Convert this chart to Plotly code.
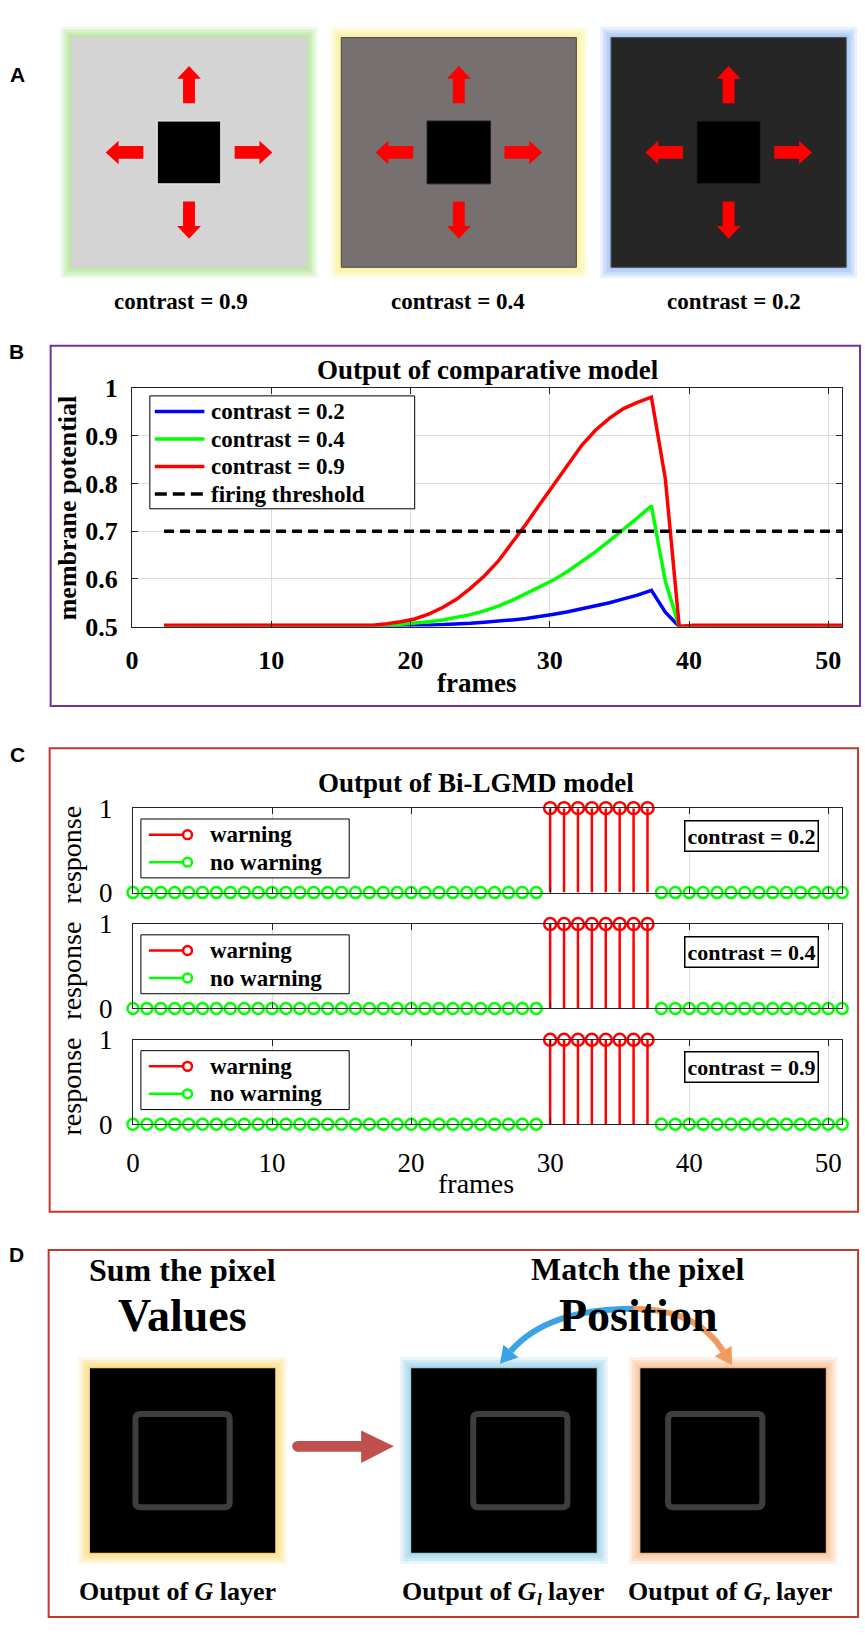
import math
import plotly.graph_objects as go

W, H = 865, 1637
SERIF = 'Liberation Serif, Times New Roman, serif'
SANS = 'Liberation Sans, Arial, sans-serif'

# ---- panel A: stimuli ----
stimulus_labels = ['contrast = 0.9', 'contrast = 0.4', 'contrast = 0.2']
stimulus_fill = ['#d4d4d4', '#767070', '#262626']
stimulus_glow = ['#b4e69a', '#fbf29a', '#a3c4f5']

# ---- panel B: comparative model ----
frames_b = [round(2.3 + i, 1) for i in range(50)]
potential_02 = [0.501] * 16 + [
    0.501, 0.501, 0.502, 0.503, 0.504, 0.505, 0.507, 0.509, 0.511, 0.514,
    0.517, 0.521, 0.526, 0.531, 0.537, 0.543, 0.550, 0.558, 0.566, 0.576,
    0.530, 0.500] + [0.500] * 12
potential_04 = [0.502] * 16 + [
    0.503, 0.505, 0.507, 0.510, 0.514, 0.519, 0.525, 0.533, 0.543, 0.555,
    0.569, 0.583, 0.598, 0.616, 0.636, 0.657, 0.680, 0.703, 0.728, 0.753,
    0.595, 0.500] + [0.501] * 12
potential_09 = [0.503] * 16 + [
    0.506, 0.510, 0.516, 0.526, 0.540, 0.557, 0.580, 0.606, 0.637, 0.675,
    0.715, 0.757, 0.797, 0.840, 0.880, 0.912, 0.937, 0.957, 0.970, 0.981,
    0.810, 0.500] + [0.503] * 12
threshold_x = [2.3, 51]
threshold_y = [0.7, 0.7]
series_names = ['contrast = 0.2', 'contrast = 0.4', 'contrast = 0.9', 'firing threshold']

# ---- panel C: Bi-LGMD output ----
frames_c = list(range(52))
response_02 = [0, 0, 0, 0, 0, 0, 0, 0, 0, 0,
               0, 0, 0, 0, 0, 0, 0, 0, 0, 0,
               0, 0, 0, 0, 0, 0, 0, 0, 0, 0,
               1, 1, 1, 1, 1, 1, 1, 1,
               0, 0, 0, 0, 0, 0, 0, 0, 0, 0, 0, 0, 0, 0]
response_04 = [0, 0, 0, 0, 0, 0, 0, 0, 0, 0,
               0, 0, 0, 0, 0, 0, 0, 0, 0, 0,
               0, 0, 0, 0, 0, 0, 0, 0, 0, 0,
               1, 1, 1, 1, 1, 1, 1, 1,
               0, 0, 0, 0, 0, 0, 0, 0, 0, 0, 0, 0, 0, 0]
response_09 = [0, 0, 0, 0, 0, 0, 0, 0, 0, 0,
               0, 0, 0, 0, 0, 0, 0, 0, 0, 0,
               0, 0, 0, 0, 0, 0, 0, 0, 0, 0,
               1, 1, 1, 1, 1, 1, 1, 1,
               0, 0, 0, 0, 0, 0, 0, 0, 0, 0, 0, 0, 0, 0]
responses = [response_02, response_04, response_09]
response_labels = ['contrast = 0.2', 'contrast = 0.4', 'contrast = 0.9']

RED, GREEN, BLUE = '#ff0000', '#00ff00', '#0000ff'

shapes = []
annotations = []


def P(x, y):
    return f'{x / W:.5f},{1 - y / H:.5f}'


def add_rect(x0, y0, x1, y1, fill='rgba(0,0,0,0)', line_color='rgba(0,0,0,0)', lw=0, opacity=1):
    shapes.append(dict(type='rect', xref='paper', yref='paper',
                       x0=x0 / W, x1=x1 / W, y0=1 - y1 / H, y1=1 - y0 / H,
                       fillcolor=fill, opacity=opacity,
                       line=dict(color=line_color, width=lw)))


def add_line(x0, y0, x1, y1, color, lw, dash='solid'):
    shapes.append(dict(type='line', xref='paper', yref='paper',
                       x0=x0 / W, x1=x1 / W, y0=1 - y0 / H, y1=1 - y1 / H,
                       line=dict(color=color, width=lw, dash=dash)))


def add_circle(cx, cy, r, color, lw, fill='white'):
    shapes.append(dict(type='circle', xref='paper', yref='paper',
                       x0=(cx - r) / W, x1=(cx + r) / W, y0=1 - (cy + r) / H, y1=1 - (cy - r) / H,
                       fillcolor=fill, line=dict(color=color, width=lw)))


def add_poly(points, color):
    path = 'M ' + ' L '.join(P(x, y) for x, y in points) + ' Z'
    shapes.append(dict(type='path', xref='paper', yref='paper', path=path,
                       fillcolor=color, line=dict(width=0)))


def add_path(path, color, lw):
    shapes.append(dict(type='path', xref='paper', yref='paper', path=path,
                       line=dict(color=color, width=lw)))


def add_text(x, y, s, size, bold=True, family=SERIF, angle=0, anchor='center', italic=False, **kw):
    annotations.append(dict(x=x / W, y=1 - y / H, xref='paper', yref='paper', text=s,
                            showarrow=False, xanchor=anchor, yanchor='middle',
                            textangle=angle,
                            font=dict(family=family, size=size, color='black',
                                      style='italic' if italic else 'normal',
                                      weight='bold' if bold else 'normal'), **kw))


def glow(x0, y0, x1, y1, color):
    for d, op in [(11, 0.25), (8, 0.35), (5, 0.5), (2, 0.7)]:
        add_rect(x0 - d, y0 - d, x1 + d, y1 + d, fill=color, opacity=op)


def rounded_square(cx, cy, h, r, color, lw):
    x0, x1, y0, y1 = cx - h, cx + h, cy - h, cy + h
    path = (f'M {P(x0 + r, y0)} L {P(x1 - r, y0)} Q {P(x1, y0)} {P(x1, y0 + r)} '
            f'L {P(x1, y1 - r)} Q {P(x1, y1)} {P(x1 - r, y1)} L {P(x0 + r, y1)} '
            f'Q {P(x0, y1)} {P(x0, y1 - r)} L {P(x0, y0 + r)} Q {P(x0, y0)} {P(x0 + r, y0)} Z')
    add_path(path, color, lw)


# ---------------- panel A ----------------
add_text(11, 61, 'A', 21, family=SANS)
for i, (x0, lx) in enumerate([(65, 175), (337, 455), (609, 733)]):
    x1, y0, y1 = x0 + 237, 23, 257
    glow(x0, y0, x1, y1, stimulus_glow[i])
    add_rect(x0, y0, x1, y1, fill=stimulus_fill[i], line_color='#4a4a4a' if i else '#d4d4d4', lw=1)
    cx, cy = (x0 + x1) / 2, (y0 + y1) / 2
    add_rect(cx - 32, cy - 32, cx + 32, cy + 32, fill='black', line_color='#f0f0f0' if i == 0 else '#222', lw=1)
    for sy in (-1, 1):
        add_poly([(cx - 6, cy + sy * 50), (cx - 6, cy + sy * 75), (cx - 12, cy + sy * 75), (cx, cy + sy * 88),
                  (cx + 12, cy + sy * 75), (cx + 6, cy + sy * 75), (cx + 6, cy + sy * 50)], RED)
    for sx in (-1, 1):
        add_poly([(cx + sx * 46, cy - 6.5), (cx + sx * 71, cy - 6.5), (cx + sx * 71, cy - 12), (cx + sx * 84, cy),
                  (cx + sx * 71, cy + 12), (cx + sx * 71, cy + 6.5), (cx + sx * 46, cy + 6.5)], RED)
    add_text(lx, 292, stimulus_labels[i], 23)

# ---------------- panel B ----------------
add_text(10, 343, 'B', 21, family=SANS)
add_rect(44, 337, 860, 704, line_color='#7030a0', lw=2)
add_text(485, 362, 'Output of comparative model', 27)
add_text(61, 502, 'membrane potential', 26, angle=-90)
add_text(473, 680, 'frames', 27)

fig = go.Figure()
b_series = [potential_02, potential_04, potential_09]
b_colors = [BLUE, GREEN, RED]
for name, vals, col in zip(series_names, b_series, b_colors):
    fig.add_trace(go.Scatter(x=frames_b, y=vals, name=name, mode='lines', showlegend=False,
                             line=dict(color=col, width=3.5), xaxis='x', yaxis='y'))
fig.add_trace(go.Scatter(x=threshold_x, y=threshold_y, name=series_names[3], mode='lines', showlegend=False,
                         line=dict(color='black', width=3.5, dash='10px,6px'), xaxis='x', yaxis='y'))

# legend box of panel B
add_rect(144, 388, 411, 503, fill='white', line_color='black', lw=1)
for j, (name, col) in enumerate(zip(series_names, b_colors + ['black'])):
    yy = 404 + j * 28
    add_line(149, yy, 199, yy, col, 3.5, dash='12px,6px' if j == 3 else 'solid')
    add_text(204, yy, name, 23, anchor='left')

# ---------------- panel C ----------------
add_text(11, 753, 'C', 21, family=SANS)
add_rect(43, 747, 858, 1219, line_color='#c0392b', lw=2)
add_text(473, 782, 'Output of Bi-LGMD model', 27)
add_text(473, 1190, 'frames', 28, bold=False)
plot_tops = [808, 926, 1044]
plot_h = 86
for i, resp in enumerate(responses):
    k = i + 2
    top = plot_tops[i]
    warn_x = [f for f, r in zip(frames_c, resp) if r == 1]
    warn_y = [r for r in resp if r == 1]
    calm_x = [f for f, r in zip(frames_c, resp) if r == 0]
    calm_y = [r for r in resp if r == 0]
    stem_x, stem_y = [], []
    for f in warn_x:
        stem_x += [f, f, None]
        stem_y += [0, 1, None]
    fig.add_trace(go.Scatter(x=stem_x, y=stem_y, mode='lines', showlegend=False, name='warning',
                             line=dict(color=RED, width=2.5), xaxis=f'x{k}', yaxis=f'y{k}'))
    fig.add_trace(go.Scatter(x=warn_x, y=warn_y, mode='markers', showlegend=False, cliponaxis=False,
                             name='warning',
                             marker=dict(symbol='circle-open', color=RED, size=12, line=dict(width=2.5)),
                             xaxis=f'x{k}', yaxis=f'y{k}'))
    fig.add_trace(go.Scatter(x=calm_x, y=calm_y, mode='markers', showlegend=False, cliponaxis=False,
                             name='no warning',
                             marker=dict(symbol='circle-open', color=GREEN, size=11, line=dict(width=2.5)),
                             xaxis=f'x{k}', yaxis=f'y{k}'))
    # legend box
    add_rect(135, top + 11, 345, top + 71, fill='white', line_color='black', lw=1)
    for j, (nm, col) in enumerate([('warning', RED), ('no warning', GREEN)]):
        yy = top + 27 + j * 28
        add_line(143, yy, 178, yy, col, 2.5)
        add_circle(182, yy, 4.5, col, 2.5)
        add_text(203, yy, nm, 23, anchor='left')
    add_text(65, top + plot_h / 2 + 4, 'response', 28, bold=False, angle=-90)
    add_text(751, top + 28, response_labels[i], 22, bordercolor='black', borderwidth=1.5,
             bgcolor='white', borderpad=2)

# ---------------- panel D ----------------
add_text(10, 1263, 'D', 21, family=SANS)
add_rect(42, 1258, 858, 1632, line_color='#c0392b', lw=2)
add_text(177, 1278, 'Sum the pixel', 32)
add_text(177, 1325, 'Values', 46)
add_text(636, 1277, 'Match the pixel', 32)
d_boxes = [(83, '#fddf8a', 0), (407, '#a6d8ea', 16.5), (638, '#f8c49c', -18)]
for x0, gcol, off in d_boxes:
    x1, y0, y1 = x0 + 188, 1378, 1567
    glow(x0, y0, x1, y1, gcol)
    add_rect(x0, y0, x1, y1, fill='black', line_color=gcol, lw=1)
    rounded_square((x0 + x1) / 2 + off, 1472.5, 47.5, 5, '#3e3e3e', 6)

# layer captions (subscripts placed as their own small italic texts)
add_text(172, 1606, 'Output of <i>G</i> layer', 26)
for xs, sub in [(536, 'l'), (764, 'r')]:
    add_text(xs, 1606, 'Output of <i>G</i>', 26, anchor='right')
    add_text(xs - 4, 1614, sub, 17, anchor='left', italic=True)
    add_text(xs + (7 if sub == 'l' else 9), 1606, 'layer', 26, anchor='left')

# straight arrow G -> Gl
add_poly([(293, 1452.5), (357, 1452.5), (357, 1442), (390, 1458), (357, 1475), (357, 1463.5), (293, 1463.5)], '#c0504d')
add_circle(293, 1458, 5.5, '#c0504d', 0, fill='#c0504d')

# curved arrows from "Position"
for (sx, sy), (qx, qy), (ex, ey), col in [((632, 1318), (545, 1318), (508, 1361), '#3aa3e6'),
                                          ((632, 1318), (695, 1318), (722, 1361), '#f09a5c')]:
    add_path(f'M {P(sx, sy)} Q {P(qx, qy)} {P(ex, ey)}', col, 6)
    dx, dy = ex - qx, ey - qy
    n = math.hypot(dx, dy)
    ux, uy = dx / n, dy / n
    tip = (ex + ux * 17, ey + uy * 17)
    add_poly([(ex + uy * 10, ey - ux * 10), tip, (ex - uy * 10, ey + ux * 10)], col)
add_text(636, 1325, 'Position', 46)

# ---------------- axes ----------------
axis_common = dict(showline=True, linecolor='#262626', linewidth=1, mirror='ticks', ticks='inside',
                   ticklen=6, tickcolor='#262626', zeroline=False, gridcolor='#dcdcdc', gridwidth=1)
layout_axes = dict(
    xaxis=dict(domain=[126 / W, 842 / W], range=[0, 51], anchor='y', tickvals=[0, 10, 20, 30, 40, 50],
               tickfont=dict(family=SERIF, size=26, color='black', weight='bold'), ticklabelstandoff=10,
               showgrid=True, **axis_common),
    yaxis=dict(domain=[1 - 623 / H, 1 - 380 / H], range=[0.5, 1], anchor='x',
               tickvals=[0.5, 0.6, 0.7, 0.8, 0.9, 1], ticktext=['0.5', '0.6', '0.7', '0.8', '0.9', '1'],
               tickfont=dict(family=SERIF, size=26, color='black', weight='bold'), ticklabelstandoff=8,
               showgrid=True, **axis_common),
)
for i in range(3):
    k = i + 2
    top = plot_tops[i]
    layout_axes[f'xaxis{k}'] = dict(domain=[127 / W, 842 / W], range=[0, 51], anchor=f'y{k}',
                                    tickvals=[0, 10, 20, 30, 40, 50], showticklabels=(k == 4),
                                    tickfont=dict(family=SERIF, size=27, color='black'), ticklabelstandoff=14,
                                    showgrid=True, **axis_common)
    layout_axes[f'yaxis{k}'] = dict(domain=[1 - (top + plot_h) / H, 1 - top / H], range=[0, 1], anchor=f'x{k}',
                                    tickvals=[0, 1], tickfont=dict(family=SERIF, size=27, color='black'),
                                    ticklabelstandoff=14, showgrid=False, **axis_common)

fig.update_layout(
    width=W, height=H, margin=dict(l=0, r=0, t=0, b=0),
    paper_bgcolor='white', plot_bgcolor='white',
    showlegend=False, shapes=shapes, annotations=annotations,
    **layout_axes,
)

fig.write_html("out.html", config={'displayModeBar': False},
               post_script="document.body.style.margin='0px';")
